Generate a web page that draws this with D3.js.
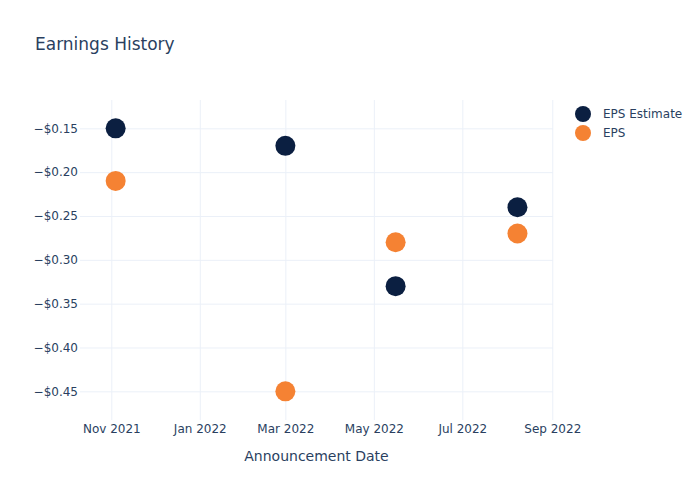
<!DOCTYPE html>
<html><head><meta charset="utf-8">
<script src="https://cdn.jsdelivr.net/npm/d3@7"></script>
<style>body{margin:0;background:#fff}svg{display:block}text{font-family:"DejaVu Sans",sans-serif}</style>
</head><body><svg id="c" width="700" height="500"></svg>
<script>
const dates = ["2021-11-04", "2022-03-01", "2022-05-16", "2022-08-08"];
const epsEstimate = [-0.15, -0.17, -0.33, -0.24];
const eps = [-0.21, -0.45, -0.28, -0.27];
const seriesNames = ["EPS Estimate", "EPS"];
const seriesColors = ["#0b1f41", "#f58233"];
const yTicks = [-0.15, -0.20, -0.25, -0.30, -0.35, -0.40, -0.45];
const xTicks = ["2021-11-01", "2022-01-01", "2022-03-01", "2022-05-01", "2022-07-01", "2022-09-01"];

const parse = d3.utcParse("%Y-%m-%d");
const svg = d3.select("#c");
const L = 80, R = 553, T = 100, B = 420;
const x = d3.scaleUtc().domain([new Date(Date.UTC(2021,9,10,10)), new Date(Date.UTC(2022,8,1,12))]).range([L, R]);
const y = d3.scaleLinear().domain([-0.4827, -0.1177]).range([B, T]);
const txt = "#2a3f5f", grid = "#ebf0f8";

svg.append("text").attr("x", 35).attr("y", 50).attr("fill", txt).attr("font-size", 17).text("Earnings History");

const gx = svg.append("g").attr("transform", `translate(0,${B})`)
  .call(d3.axisBottom(x).tickValues(xTicks.map(parse)).tickFormat(d3.utcFormat("%b %Y")).tickSize(-(B - T)).tickPadding(4));
gx.select(".domain").remove();
gx.selectAll(".tick line").attr("stroke", grid);
gx.selectAll(".tick text").attr("fill", txt).attr("font-size", 12).attr("font-family", "DejaVu Sans");

const fmt = v => "\u2212$" + Math.abs(v).toFixed(2);
const gy = svg.append("g").attr("transform", `translate(${L},0)`)
  .call(d3.axisLeft(y).tickValues(yTicks).tickFormat(fmt).tickSize(-(R - L)).tickPadding(2));
gy.select(".domain").remove();
gy.selectAll(".tick line").attr("stroke", grid);
gy.selectAll(".tick text").attr("fill", txt).attr("font-size", 12).attr("font-family", "DejaVu Sans");

svg.append("text").attr("x", (L + R) / 2).attr("y", 461).attr("text-anchor", "middle")
  .attr("fill", txt).attr("font-size", 14).text("Announcement Date");

const series = [epsEstimate, eps];
series.forEach((vals, i) => {
  svg.append("g").selectAll("circle").data(vals).join("circle")
    .attr("cx", (d, j) => x(parse(dates[j]))).attr("cy", d => y(d)).attr("r", 10)
    .attr("fill", seriesColors[i]);
});

const lg = svg.append("g");
seriesNames.forEach((n, i) => {
  lg.append("circle").attr("cx", 583).attr("cy", 114 + i * 19).attr("r", 8).attr("fill", seriesColors[i]);
  lg.append("text").attr("x", 603).attr("y", 118 + i * 19).attr("fill", txt).attr("font-size", 12).text(n);
});
</script></body></html>
